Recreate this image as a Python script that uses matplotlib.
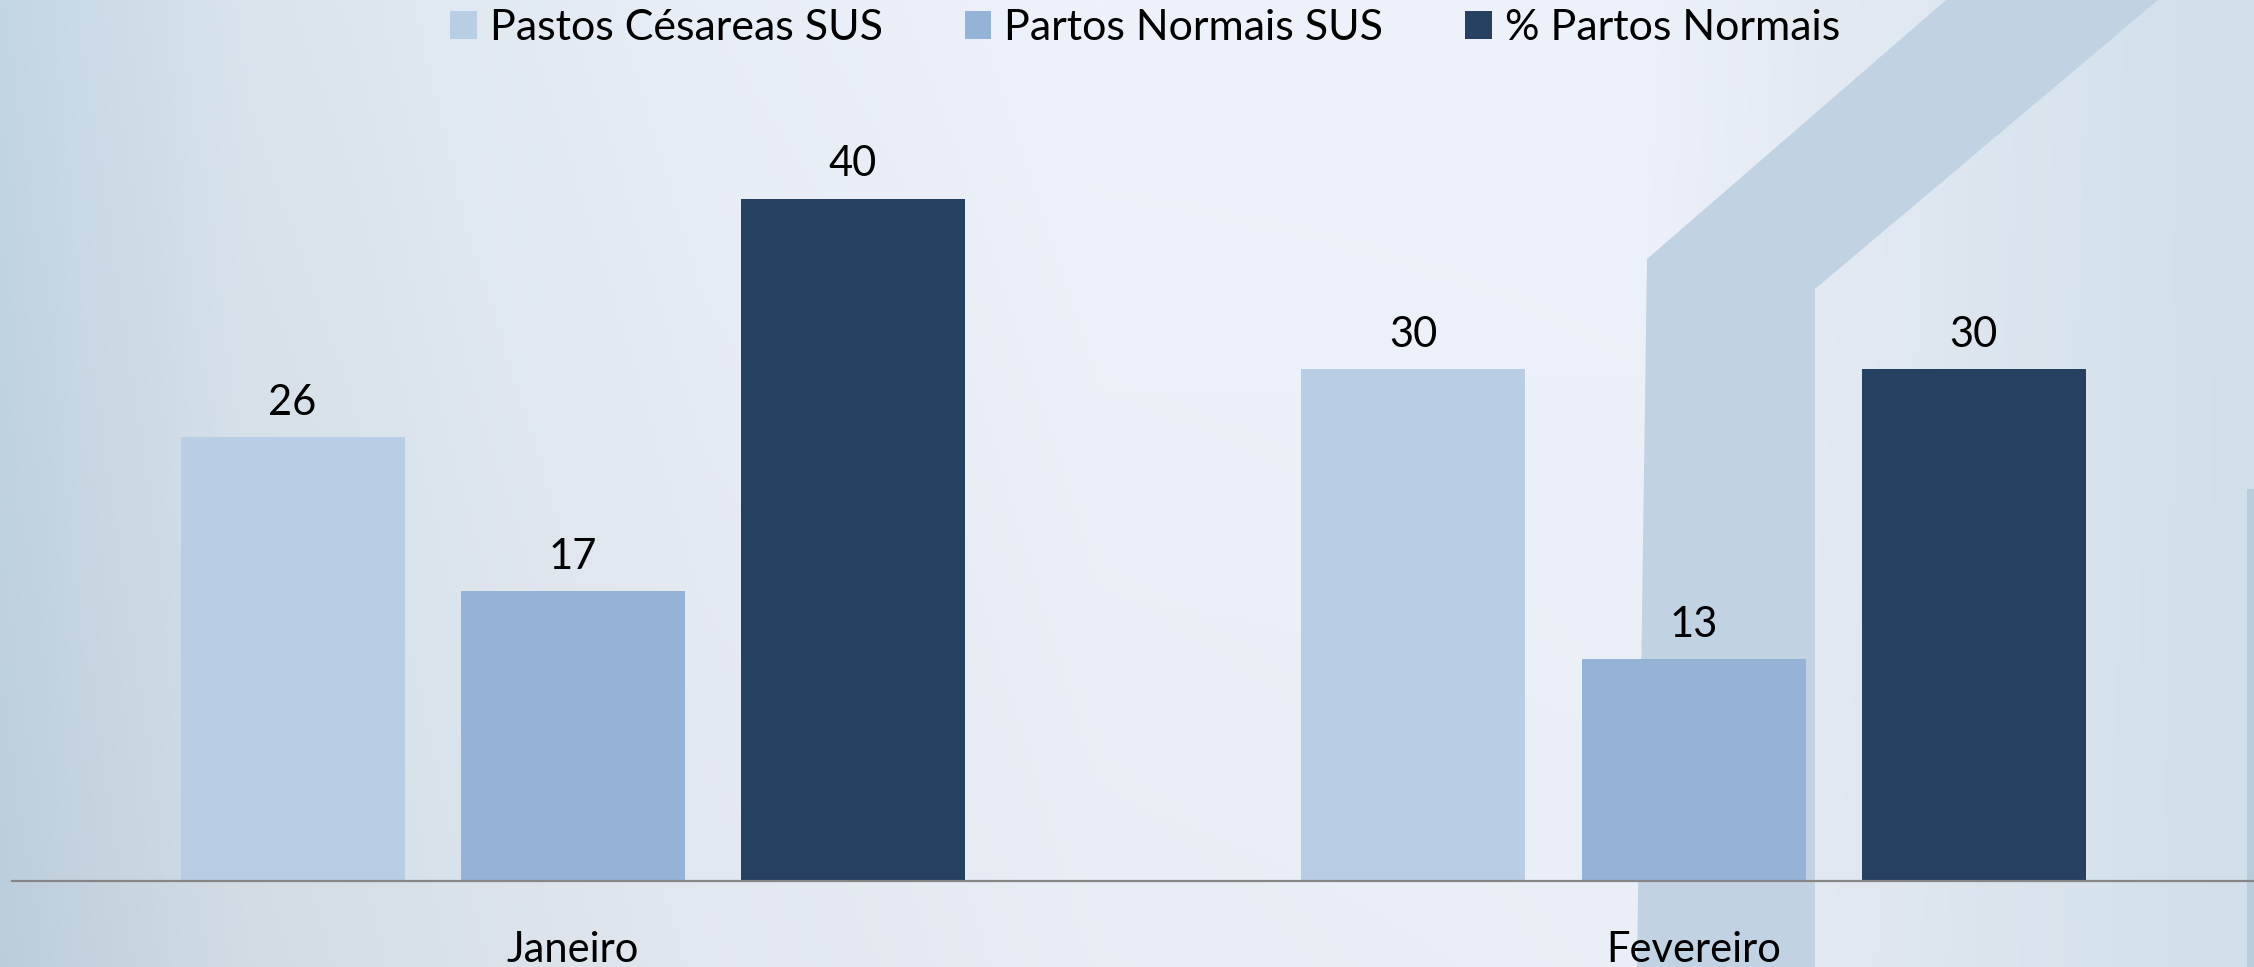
import numpy as np
import matplotlib.pyplot as plt
from matplotlib.patches import Polygon, Rectangle
from matplotlib.colors import to_rgb

# data
categories = ['Janeiro', 'Fevereiro']
series_names = ['Pastos Césareas SUS', 'Partos Normais SUS', '% Partos Normais']
cesareas = [26, 30]
normais = [17, 13]
pct_normais = [40, 30]
colors = ['#b9cde4', '#95b3d7', '#254061']

plt.rcParams['font.family'] = ['Lato', 'DejaVu Sans']

W, H = 2254, 967
fig = plt.figure(figsize=(W / 100, H / 100), dpi=100)

# background gradient + house-like band
bg = fig.add_axes([0, 0, 1, 1], zorder=-1)
xs = np.arange(W)
stops_x = [0, 250, 700, 1100, 1640, 1820, 2254]
stops_c = ['#c3d6e4', '#dae4ed', '#e8eef6', '#eef2fa', '#edf2fa', '#e4eaf2', '#d0dfea']
rgb = np.array([to_rgb(c) for c in stops_c])
row = np.stack([np.interp(xs, stops_x, rgb[:, k]) for k in range(3)], axis=-1)
yy = np.linspace(0, 1, H)[:, None, None]
img = row[None, :, :] * (1 - 0.04 * yy * (1 - xs[None, :, None] / W))
bg.imshow(np.clip(img, 0, 1), extent=(0, W, H, 0), aspect='auto')
band = Polygon([(1637, H), (1647, 259), (1946, 0), (2158, 0), (1815, 289), (1815, H)],
               closed=True, facecolor='#c1d3e2', edgecolor='none')
bg.add_patch(band)
bg.add_patch(Rectangle((2247, 489), 7, H - 489, facecolor='#b8ccda', edgecolor='none'))
bg.set_xlim(0, W)
bg.set_ylim(H, 0)
bg.axis('off')

ax = fig.add_axes([0.0055, 0.0889, 0.9945, 0.794])
ax.patch.set_alpha(0)

x = np.arange(len(categories))
width = 0.2
step = 0.25
for i, (vals, name) in enumerate(zip([cesareas, normais, pct_normais], series_names)):
    bars = ax.bar(x + (i - 1) * step, vals, width, color=colors[i], label=name, zorder=2)
    ax.bar_label(bars, padding=11, fontsize=30, color='black')

ax.set_xlim(-0.5, 1.5)
ax.set_ylim(0, 45)
ax.set_xticks(x)
ax.set_xticklabels(categories, fontsize=30)
ax.tick_params(axis='x', length=0, pad=36)
ax.set_yticks([])
for s in ['top', 'left', 'right']:
    ax.spines[s].set_visible(False)
ax.spines['bottom'].set_color('#868686')
ax.spines['bottom'].set_linewidth(1.6)
ax.spines['bottom'].set_zorder(3)

fig.legend(loc='center', bbox_to_anchor=(0.508, 0.971), ncol=3, frameon=False,
           fontsize=31, handlelength=0.62, handleheight=0.62, handletextpad=0.3,
           columnspacing=1.9)

fig.savefig('out.png', dpi=100)
